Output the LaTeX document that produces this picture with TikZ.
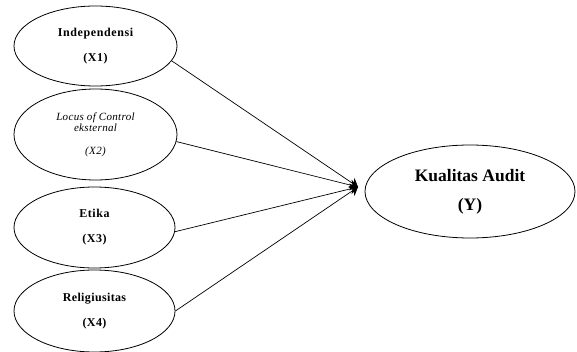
\documentclass[tikz,border=0pt]{standalone}
\usepackage{fontspec}
\setmainfont{Liberation Serif}
\usetikzlibrary{shapes.geometric,arrows.meta}
\begin{document}
\begin{tikzpicture}[x=1pt,y=-1pt,
  var/.style={draw,ellipse,line width=0.8pt,minimum width=163pt,minimum height=80pt,inner sep=0pt,align=center,font=\bfseries\fontsize{12}{14}\selectfont},
  conn/.style={line width=0.7pt,-{Stealth[length=8pt,width=11pt]}}]
\useasboundingbox (0,0) rectangle (577,352);
\node[var] (x1) at (95.5,46) {\addfontfeatures{LetterSpace=5}Independensi\\[11pt]\addfontfeatures{LetterSpace=5}(X1)};
\node[var,minimum height=91pt,font=\itshape\fontsize{11}{11}\selectfont] (x2) at (95.5,134.5) {\addfontfeatures{LetterSpace=3}Locus of Control\\\addfontfeatures{LetterSpace=3}eksternal\\[12pt]\addfontfeatures{LetterSpace=3}(X2)};
\node[var,minimum width=161pt,minimum height=81pt] (x3) at (94.5,227.5) {\addfontfeatures{LetterSpace=5}Etika\\[11pt]\addfontfeatures{LetterSpace=5}(X3)};
\node[var,minimum width=161pt,minimum height=82pt] (x4) at (94.5,311) {\addfontfeatures{LetterSpace=3}Religiusitas\\[11pt]\addfontfeatures{LetterSpace=3}(X4)};
\node[var,minimum width=210pt,minimum height=93pt,font=\bfseries\fontsize{17.5}{19}\selectfont] (y) at (470,191.5) {Kualitas Audit\\[10pt](Y)};
\coordinate (tip) at (358,187);
\draw[conn] (x1.-11) -- (tip);
\draw[conn] (x2.-5) -- (tip);
\draw[conn] (x3.-3) -- (tip);
\draw[conn] (x4.east) -- (tip);
\end{tikzpicture}
\end{document}
